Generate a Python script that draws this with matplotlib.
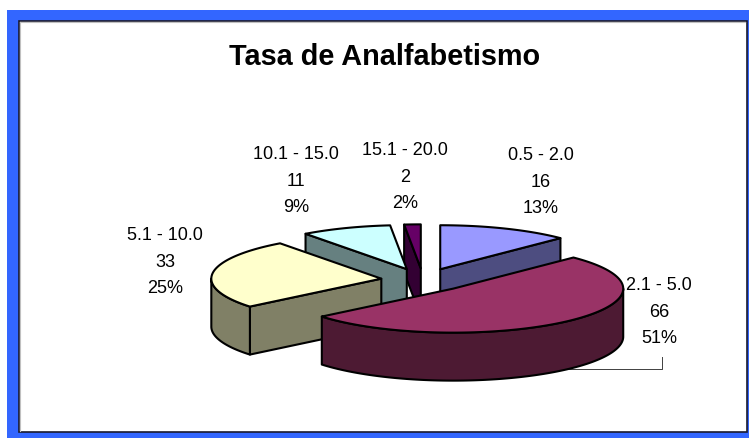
import numpy as np
import matplotlib
matplotlib.use("Agg")
import matplotlib.pyplot as plt
from matplotlib.patches import Polygon, Rectangle

plt.rcParams['font.family'] = ['Liberation Sans', 'DejaVu Sans']

title = "Tasa de Analfabetismo"
categories = ["0.5 - 2.0", "2.1 - 5.0", "5.1 - 10.0", "10.1 - 15.0", "15.1 - 20.0"]
values = [16, 66, 33, 11, 2]
percents = ["13%", "51%", "25%", "9%", "2%"]

top_colors = ["#9999FF", "#993366", "#FFFFCC", "#CCFFFF", "#660066"]
side_colors = ["#4D4D80", "#4D1A33", "#808066", "#668080", "#330033"]

# label centre x, then y of the first line, one per category
label_x = [541, 659, 165, 296, 405]
label_y = [156, 286, 236, 155, 151]
line_step = 26.5

# pie geometry in pixels
cx, cy = 423, 281
rx, ry = 170, 44
depth = 48
explode = [45, 45, 42, 45, 45]
squash = ry / rx

fig = plt.figure(figsize=(7.49, 4.39), dpi=100, facecolor="white")
ax = fig.add_axes([0, 0, 1, 1])
ax.set_xlim(0, 749)
ax.set_ylim(439, 0)
ax.axis("off")

# blue frame, then the white chart area
ax.add_patch(Rectangle((7, 11), 750, 440, fc="#3366FF", ec="none", zorder=0))
ax.add_patch(Rectangle((18.5, 21.5), 728, 412, fc="white", ec="#1a1a2e", lw=1.2, zorder=1))
ax.plot([20, 20], [23, 432], color="#c0c0c0", lw=0.8, zorder=1)
ax.plot([20, 745], [23, 23], color="#c0c0c0", lw=0.8, zorder=1)


def ring(ax_, ay, a1, a2):
    t = np.radians(np.linspace(a1, a2, max(int(abs(a2 - a1)) * 2, 2)))
    return np.column_stack([ax_ + rx * np.sin(t), ay - ry * np.cos(t)])


edges = 360 * np.cumsum([0] + values) / sum(values)
order = [0, 4, 3, 2, 1]  # back slices first

z = 3
for i in order:
    a1, a2 = edges[i], edges[i + 1]
    mid = np.radians((a1 + a2) / 2)
    ox = cx + explode[i] * np.sin(mid)
    oy = cy - explode[i] * squash * np.cos(mid)
    pts = []
    # cut faces that turn towards the viewer
    for ang, show in ((a1, np.sin(np.radians(a1)) < 0), (a2, np.sin(np.radians(a2)) > 0)):
        if show:
            e = ring(ox, oy, ang, ang)[0]
            pts.append(np.array([[ox, oy], e, e + [0, depth], [ox, oy + depth]]))
    # outer wall, front half only
    lo, hi = max(a1, 90), min(a2, 270)
    if hi > lo:
        r = ring(ox, oy, lo, hi)
        pts.append(np.vstack([r, r[::-1] + [0, depth]]))
    for p in pts:
        ax.add_patch(Polygon(p, closed=True, fc=side_colors[i], ec="black", lw=1.5, joinstyle="round", zorder=z))
        z += 1
    top = np.vstack([[ox, oy], ring(ox, oy, a1, a2)])
    ax.add_patch(Polygon(top, closed=True, fc=top_colors[i], ec="black", lw=1.5, joinstyle="round", zorder=z))
    z += 1

# leader line of the biggest slice
ax.plot([569, 662, 662], [370, 370, 358], color="#404040", lw=0.7, zorder=2)

ax.text(385, 57, title, fontsize=20.8, fontweight="bold", color="black", ha="center", va="center", zorder=50)

for i in range(len(categories)):
    lines = [categories[i], str(values[i]), percents[i]]
    for k, s in enumerate(lines):
        ax.text(label_x[i], label_y[i] + k * line_step, s, fontsize=13, color="black",
                ha="center", va="center", zorder=50)

fig.savefig("out.png", dpi=100, facecolor="white")
